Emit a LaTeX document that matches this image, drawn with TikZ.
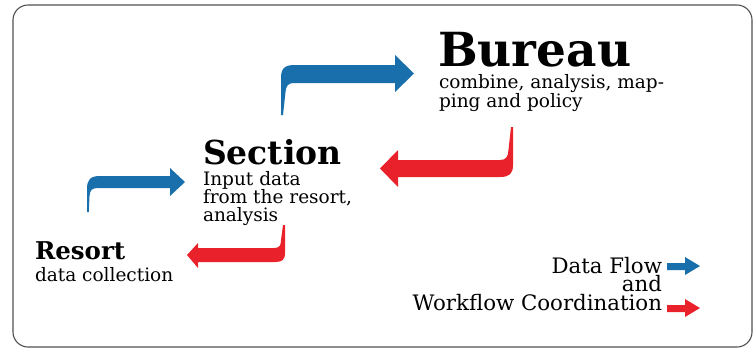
\documentclass[tikz,border=0pt]{standalone}
\usepackage{fontspec}
\setmainfont{DejaVu Serif}
\definecolor{flowblue}{RGB}{24,111,172}
\definecolor{flowred}{RGB}{232,33,42}
\definecolor{framegray}{RGB}{80,80,80}
\begin{document}
\begin{tikzpicture}[x=1pt,y=-1pt,
  txt/.style={inner sep=0pt,outer sep=0pt},
  head/.style={txt,font=\bfseries\fontsize{#1}{#1}\selectfont},
  body/.style={txt,align=left,font=\fontsize{18.5}{16.5}\selectfont},
  legend/.style={txt,font=\fontsize{21.3}{21.3}\selectfont},
  bluefill/.style={fill=flowblue,draw=none},
  redfill/.style={fill=flowred,draw=none}]
\useasboundingbox (0,0) rectangle (756,349);
\draw[framegray,line width=1.1pt,rounded corners=15pt] (13,5) rectangle (752,347);

% texts
\node[head=24.5,anchor=base west] (resort) at (35,259) {Resort};
\node[body,anchor=base west] (resortd) at (35,281) {data collection};
\node[head=33,anchor=base west] (section) at (203,164) {Section};
\node[body,anchor=north west] (sectiond) at (203,171) {Input data\\from the resort,\\analysis};
\node[head=47,anchor=base west] (bureau) at (438,66) {Bureau};
\node[body,anchor=north west] (bureaud) at (439,74) {combine, analysis, map-\\ping and policy};

\node[legend,anchor=base east] (ldata) at (662,273) {Data Flow};
\node[legend,anchor=base east] (land) at (662,291) {and};
\node[legend,anchor=base east] (lwork) at (662,310) {Workflow Coordination};

% blue arrow resort -> section
\fill[bluefill] (87,212) -- (87,189) .. controls (87,180) and (90,176) .. (100,176) -- (170,176) -- (170,168) -- (185,182) -- (170,196) -- (170,188) -- (98,188) .. controls (92,188) and (90,190) .. (89.5,196) -- (88.8,212) -- cycle;
% blue arrow section -> bureau
\fill[bluefill] (281,115) -- (281,78) .. controls (281,68) and (285,65) .. (295,65) -- (395,65) -- (395,55) -- (414,73.5) -- (395,92) -- (395,83) -- (294,83) .. controls (288,83) and (286,86) .. (285.5,92) -- (283,115) -- cycle;
% red arrow bureau -> section
\fill[redfill] (511,127) -- (513,127) -- (513,165) .. controls (513,174) and (509,177) .. (500,177) -- (398,177) -- (398,187) -- (380,168.5) -- (398,150) -- (398,160) -- (500,160) .. controls (506,160) and (508,157) .. (508.5,150) -- cycle;
% red arrow section -> resort
\fill[redfill] (283,225) -- (285,225) -- (285,253) .. controls (285,260) and (282,262) .. (275,262) -- (198,262) -- (198,268) -- (187,255) -- (198,243) -- (198,248) -- (274,248) .. controls (279,248) and (281,246) .. (281,240) -- cycle;

% legend arrows
\fill[bluefill] (667,263) -- (685,263) -- (685,257) -- (700,266) -- (685,275) -- (685,270) -- (667,270) -- cycle;
\fill[redfill] (667,305) -- (685,305) -- (685,299) -- (700,308) -- (685,317) -- (685,312) -- (667,312) -- cycle;
\end{tikzpicture}
\end{document}
